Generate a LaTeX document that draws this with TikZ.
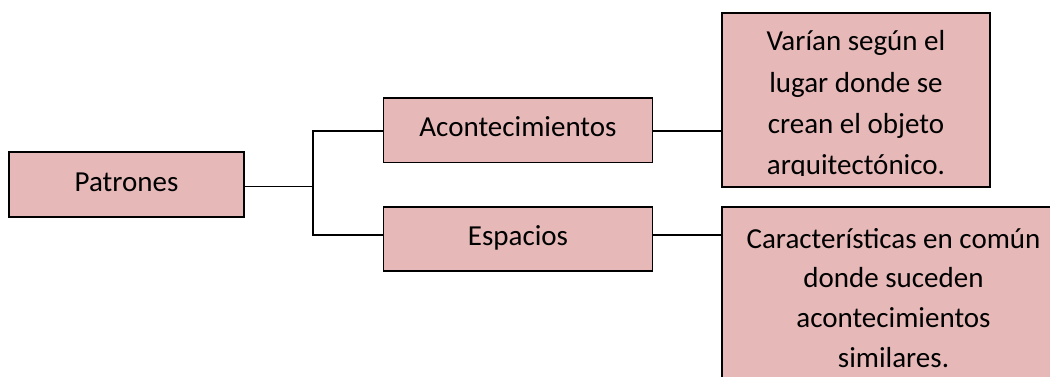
\documentclass[tikz,border=0pt]{standalone}
\usepackage{fontspec}
\setmainfont{Carlito}
\definecolor{boxfill}{RGB}{230,185,184}
\begin{document}
\begin{tikzpicture}[x=1pt,y=-1pt,
  box/.style={draw=black,fill=boxfill,line width=1.8pt,inner sep=0pt,
    font=\fontsize{29}{35}\selectfont,text height=20pt,text depth=7pt},
  link/.style={draw=black,line width=1.5pt},
  txt/.style={inner sep=0pt,anchor=base}]
\useasboundingbox (0,0) rectangle (1050,377);
% boxes
\node[box,minimum width=235pt,minimum height=65pt] (pat) at (126.5,184.5) {Patrones};
\node[box,minimum width=269pt,minimum height=64.5pt] (aco) at (518,130.25) {Acontecimientos};
\node[box,minimum width=269pt,minimum height=64pt] (esp) at (518,239) {Espacios};
\node[box,minimum width=268pt,minimum height=174pt] (var) at (856,100) {};
\node[box,minimum width=343pt,minimum height=193pt] (car) at (893.5,303.5) {};
% texts of the right boxes
\begin{scope}
\clip (723,14) rectangle (989,176);
\node[txt] (vart) at (856,51) {\parbox[t]{300pt}{\centering\fontsize{29}{41.3}\selectfont
Varían según el\\lugar donde se\\crean el objeto\\arquitectónico.}};
\end{scope}
\node[txt] (cart) at (893.5,248) {\parbox[t]{330pt}{\centering\fontsize{29}{39.7}\selectfont
Características en común\\donde suceden\\acontecimientos\\similares.}};
% connectors
\coordinate (j) at (313,186.5);
\coordinate (ja) at (313,131);
\coordinate (je) at (313,235);
\draw[link] (pat.east |- j) -- (j);
\draw[link] (aco.west |- ja) -- (ja) -- (je) -- (esp.west |- je);
\draw[link] (aco.east |- ja) -- (var.west |- ja);
\draw[link] (esp.east |- je) -- (car.west |- je);
\end{tikzpicture}
\end{document}
